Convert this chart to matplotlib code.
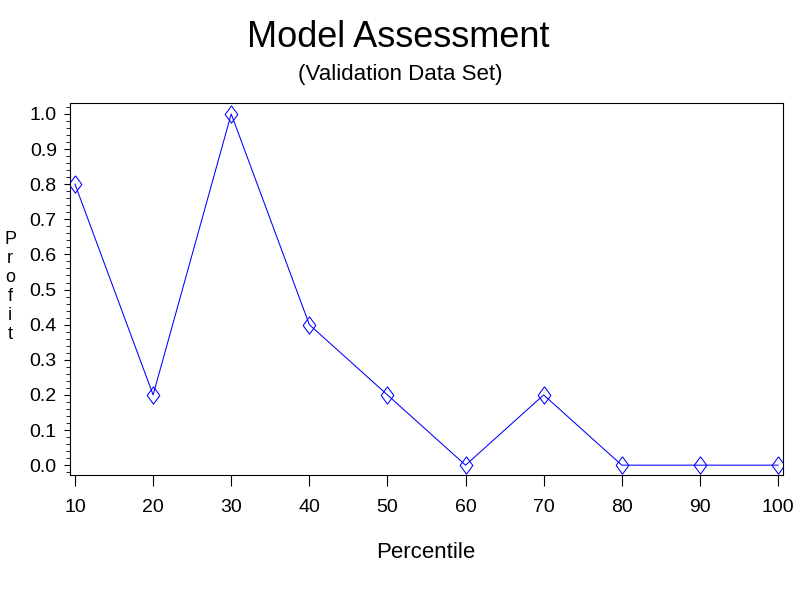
import matplotlib
matplotlib.use('Agg')
import matplotlib.pyplot as plt
from matplotlib.ticker import MultipleLocator

percentile = [10, 20, 30, 40, 50, 60, 70, 80, 90, 100]
profit = [0.8, 0.2, 1.0, 0.4, 0.2, 0.0, 0.2, 0.0, 0.0, 0.0]
yticks = [0.0, 0.1, 0.2, 0.3, 0.4, 0.5, 0.6, 0.7, 0.8, 0.9, 1.0]

plt.rcParams['font.family'] = ['Liberation Sans', 'DejaVu Sans']

fig = plt.figure(figsize=(8, 6), dpi=100)
ax = fig.add_axes([70 / 800, 1 - 475 / 600, 713 / 800, 372 / 600])

# tall open diamond like the SAS symbol
diamond = [(0, 1), (0.73, 0), (0, -1), (-0.73, 0), (0, 1)]
ax.plot(percentile, profit, color='blue', linewidth=0.75,
        marker=diamond, markersize=12.5, markerfacecolor='none',
        markeredgecolor='blue', markeredgewidth=0.75)

ax.set_xlim(9.36, 100.64)
ax.set_ylim(-0.028, 1.031)
ax.set_xticks(percentile)
ax.set_yticks(yticks)
ax.set_yticklabels(['%.1f' % v for v in yticks])
ax.yaxis.set_minor_locator(MultipleLocator(0.02))
ax.tick_params(axis='both', direction='out', labelsize=14, width=0.8)
ax.tick_params(axis='y', which='major', length=4.5, pad=5)
ax.tick_params(axis='y', which='minor', length=3)
ax.tick_params(axis='x', which='major', length=8, pad=9)

for s in ax.spines.values():
    s.set_linewidth(0.8)

fig.text(0.4975, 1 - 47 / 600, 'Model Assessment', ha='center',
         va='baseline', fontsize=26)
fig.text(0.5, 1 - 80 / 600, '(Validation Data Set)', ha='center',
         va='baseline', fontsize=16)
fig.text(426 / 800, 1 - 558 / 600, 'Percentile', ha='center',
         va='baseline', fontsize=16)
fig.text(10 / 800, 1 - 287 / 600, 'P\nr\no\nf\ni\nt', ha='center',
         va='center', fontsize=13, linespacing=1.15)

fig.savefig('out.png', dpi=100)
